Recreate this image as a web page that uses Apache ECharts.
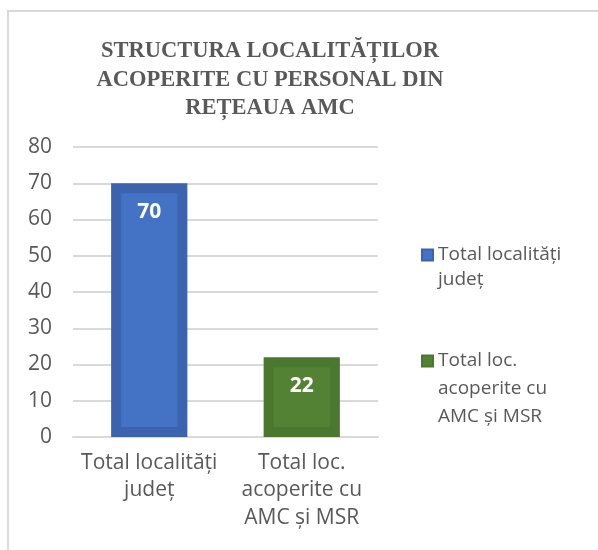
<!DOCTYPE html>
<html>
<head>
<meta charset="utf-8">
<script src="https://cdn.jsdelivr.net/npm/echarts@6/dist/echarts.min.js"></script>
<style>
  html, body { margin: 0; padding: 0; background: #fff; overflow: hidden; }
  #frame { position: absolute; left: 7px; top: 10px; width: 620px; height: 560px;
           border-left: 2px solid #d9d9d9; border-top: 2px solid #d9d9d9; }
  #main { position: absolute; left: 0; top: 0; width: 598px; height: 550px; }
</style>
</head>
<body>
<div id="frame"></div>
<div id="main"></div>
<script>
// date
const categories = ['Total localități\njudeț', 'Total loc.\nacoperite cu\nAMC și MSR'];
const seriesNames = ['Total localități\njudeț', 'Total loc.\nacoperite cu\nAMC și MSR'];
const values = [70, 22];
const yTicks = [0, 10, 20, 30, 40, 50, 60, 70, 80];

const fillColors = ['#4472c4', '#548235'];
const borderColors = ['#3c63ad', '#4a782f'];
const font = '"Open Sans", sans-serif';
const gray = '#595959';

const chart = echarts.init(document.getElementById('main'));

// fiecare bara e o serie separata, ca sa apara in legenda
const series = seriesNames.map((name, i) => ({
  name: name,
  type: 'bar',
  barWidth: '50%',
  barGap: '-100%',
  data: categories.map((c, j) => (j === i ? values[i] : null)),
  itemStyle: {
    color: fillColors[i],
    borderColor: borderColors[i],
    borderWidth: 10
  },
  label: {
    show: true,
    position: 'insideTop',
    distance: 18,
    color: '#fff',
    fontFamily: font,
    fontWeight: 'bold',
    fontSize: 21
  }
}));

// legenda: iconita aliniata cu primul rand al textului
// (randuri goale puse inainte, ca primul rand sa cada pe mijloc)
const lhs = [25, 28];
const iconCenters = [255, 361];
const legends = seriesNames.map((name, i) => {
  const n = name.split('\n').length;
  const total = 2 * n - 1;
  return {
    orient: 'vertical',
    left: 421,
    top: iconCenters[i] - total * lhs[i] / 2,
    padding: 0,
    itemWidth: 11,
    itemHeight: 11,
    itemGap: 0,
    icon: 'rect',
    data: [name],
    formatter: (nm) => '\n'.repeat(n - 1) + nm,
    textStyle: {
      color: gray,
      fontFamily: font,
      fontSize: 19,
      lineHeight: lhs[i]
    }
  };
});

chart.setOption({
  animation: false,
  title: {
    text: 'STRUCTURA LOCALITĂȚILOR\nACOPERITE CU PERSONAL DIN\nREȚEAUA AMC',
    left: 265,
    top: 32,
    textAlign: 'center',
    textStyle: {
      color: gray,
      fontFamily: '"Liberation Serif", "Times New Roman", serif',
      fontWeight: 'bold',
      fontSize: 22.5,
      lineHeight: 28.5
    }
  },
  legend: legends,
  grid: { left: 73, right: 220, top: 147, bottom: 113, containLabel: false },
  xAxis: {
    type: 'category',
    data: categories,
    axisLine: { show: true, lineStyle: { color: '#d9d9d9', width: 2 } },
    axisTick: { show: false },
    axisLabel: {
      color: gray,
      fontFamily: font,
      fontSize: 21,
      lineHeight: 27.5,
      margin: 12,
      interval: 0
    }
  },
  yAxis: {
    type: 'value',
    min: yTicks[0],
    max: yTicks[yTicks.length - 1],
    interval: 10,
    axisLine: { show: false },
    axisTick: { show: false },
    splitLine: { lineStyle: { color: '#d9d9d9', width: 2 } },
    axisLabel: {
      color: gray,
      fontFamily: font,
      fontSize: 21,
      margin: 21
    }
  },
  series: series
});
</script>
</body>
</html>
